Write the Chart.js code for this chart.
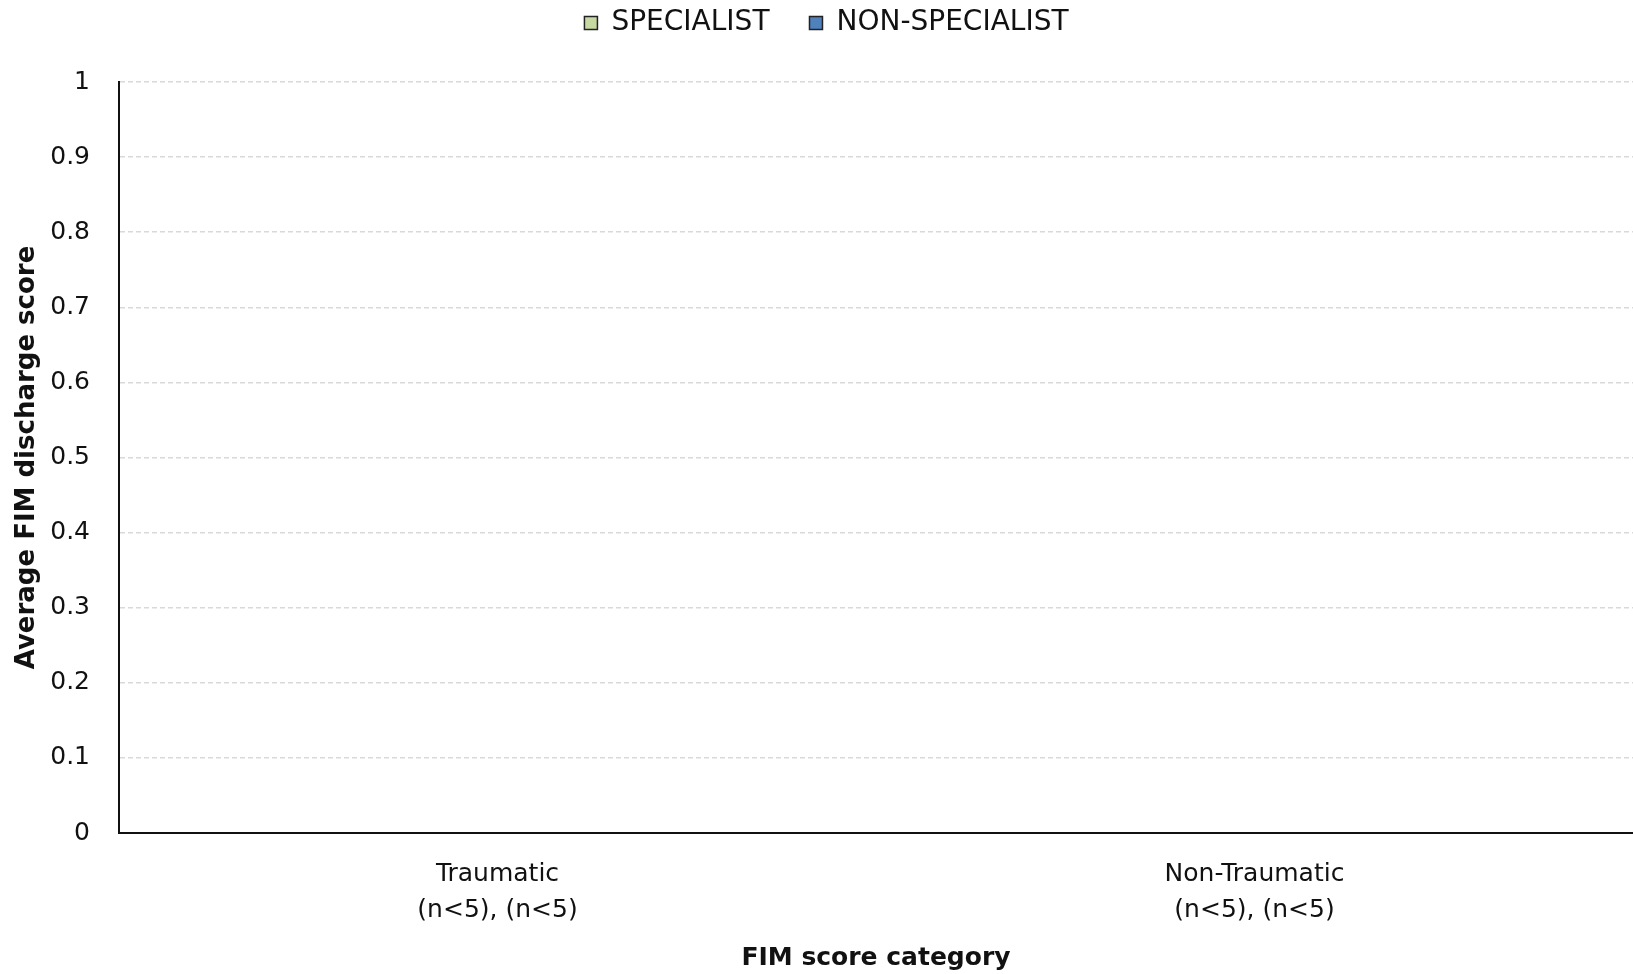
<!DOCTYPE html>
<html>
<head>
<meta charset="utf-8">
<script src="https://cdn.jsdelivr.net/npm/chart.js@4"></script>
<style>
  html, body { margin: 0; padding: 0; background: #ffffff; }
  #wrap { width: 1633px; height: 974px; position: relative; }
</style>
</head>
<body>
<div id="wrap"><canvas id="chart"></canvas></div>
<script>
// Categories with group sizes on a second line
const categories = [
  ["Traumatic", "(n<5), (n<5)"],
  ["Non-Traumatic", "(n<5), (n<5)"]
];
// Average FIM discharge scores (suppressed groups, nothing plotted)
const specialistValues = [0, 0];
const nonSpecialistValues = [0, 0];
const seriesNames = ["SPECIALIST", "NON-SPECIALIST"];
const axisTitles = { x: "FIM score category", y: "Average FIM discharge score" };

const FONT = "'DejaVu Sans', sans-serif";
const INK = "#111111";

// Extra room below the legend, and a small nudge of the legend row to the right
const legendSpacer = {
  id: "legendSpacer",
  afterInit(chart) {
    const lg = chart.legend;
    if (!lg || lg._spaced) return;
    const fit = lg.fit.bind(lg);
    lg.fit = function () { fit(); this.height += 35; };
    lg._spaced = true;
  },
  afterLayout(chart) {
    const lg = chart.legend;
    if (!lg) return;
    lg.left += 7;
    lg.right += 7;
  }
};

new Chart(document.getElementById("chart"), {
  type: "bar",
  data: {
    labels: categories,
    datasets: [
      { label: seriesNames[0], data: specialistValues, backgroundColor: "#c5d9a1", borderColor: "#222222", borderWidth: 1.5 },
      { label: seriesNames[1], data: nonSpecialistValues, backgroundColor: "#4f81bd", borderColor: "#222222", borderWidth: 1.5 }
    ]
  },
  options: {
    responsive: true,
    maintainAspectRatio: false,
    animation: false,
    layout: { padding: { top: -31, right: 0, bottom: 0, left: 6 } },
    plugins: {
      tooltip: { enabled: false },
      legend: {
        position: "top",
        labels: {
          font: { family: FONT, size: 28 },
          color: INK,
          boxWidth: 13,
          boxHeight: 13,
          padding: 40
        }
      }
    },
    scales: {
      x: {
        grid: { display: false, drawTicks: false },
        border: { color: INK, width: 2 },
        ticks: { font: { family: FONT, size: 25, lineHeight: 1.44 }, color: INK, padding: 23 },
        title: { display: true, text: axisTitles.x, font: { family: FONT, size: 25, weight: "bold", lineHeight: 1.2 }, color: INK, padding: { top: 11, bottom: 1 } },
        afterFit: (scale) => { scale.height = 141; }
      },
      y: {
        min: 0,
        max: 1,
        grid: { color: "#d9d9d9", lineWidth: 1.5, drawTicks: false },
        border: { color: INK, width: 2, dash: [5, 3] },
        ticks: {
          stepSize: 0.1,
          font: { family: FONT, size: 25 },
          color: INK,
          padding: 29,
          callback: (v) => String(Number(v.toFixed(1)))
        },
        title: { display: true, text: axisTitles.y, font: { family: FONT, size: 26, weight: "bold", lineHeight: 1.2 }, color: INK, padding: { top: 6, bottom: 6 } },
        afterFit: (scale) => { scale.width = 113; }
      }
    }
  },
  plugins: [legendSpacer]
});
</script>
</body>
</html>
